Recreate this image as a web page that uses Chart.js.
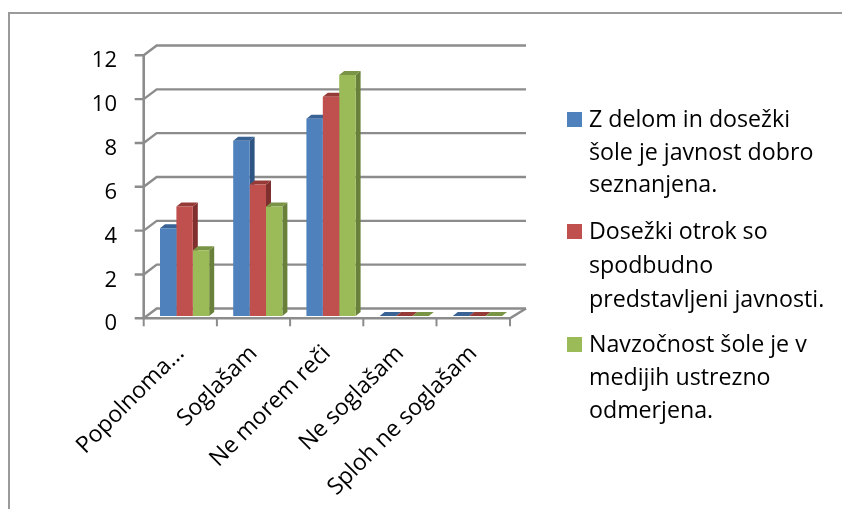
<!DOCTYPE html>
<html>
<head>
<meta charset="utf-8">
<script src="https://cdn.jsdelivr.net/npm/chart.js@4"></script>
<style>
  html, body { margin: 0; padding: 0; background: #fff; }
  #wrap { position: relative; width: 842px; height: 509px; }
</style>
</head>
<body>
<div id="wrap"><canvas id="grafico" width="842" height="509"></canvas></div>
<script>
const categorie = ['Popolnoma...', 'Soglašam', 'Ne morem reči', 'Ne soglašam', 'Sploh ne soglašam'];
const serieJavnost = [4, 8, 9, 0, 0];
const serieOtroci  = [5, 6, 10, 0, 0];
const serieMediji  = [3, 5, 11, 0, 0];
const nomiSerie = [
  'Z delom in dosežki šole je javnost dobro seznanjena.',
  'Dosežki otrok so spodbudno predstavljeni javnosti.',
  'Navzočnost šole je v medijih ustrezno odmerjena.'
];
const righeLegenda = [ // a capo come nell'originale
  ['Z delom in dosežki', 'šole je javnost dobro', 'seznanjena.'],
  ['Dosežki otrok so', 'spodbudno', 'predstavljeni javnosti.'],
  ['Navzočnost šole je v', 'medijih ustrezno', 'odmerjena.']
];
const yTicks = [0, 2, 4, 6, 8, 10, 12];

const coloriFronte = ['#4F81BD', '#C0504D', '#9BBB59'];
const coloriLato   = ['#2F5585', '#7F2F2D', '#68803A'];
const coloriTop    = ['#3A6395', '#963A38', '#7A9446'];

const GRIGIO = '#8C8C8C';
const FONT = '"Open Sans", sans-serif';
const DX = 5, DY = 4;       // profondita delle barre
const WALL_DX = 13, WALL_DY = 7.5; // parete di fondo rispetto alla base delle barre

// cornice, griglia e assi finti 3D + facce delle barre: tutto sotto i frontali
const pareti = {
  id: 'pareti',
  beforeDatasetsDraw(chart) {
    const { ctx, scales: { x, y } } = chart;
    const ax = x.left - 4.3, ay = 2.3; // asse davanti
    const bx = ax + WALL_DX, by = -WALL_DY; // griglia dietro
    const fine = x.right - 4;

    ctx.save();
    ctx.strokeStyle = '#9A9A9A';
    ctx.lineWidth = 2;
    ctx.beginPath(); // cornice esterna
    ctx.moveTo(9, 509); ctx.lineTo(9, 13); ctx.lineTo(842, 13);
    ctx.stroke();

    ctx.strokeStyle = GRIGIO;
    ctx.lineWidth = 2.4;
    yTicks.forEach(v => {
      const py = y.getPixelForValue(v);
      ctx.beginPath(); // griglia + raccordo + tacca
      ctx.moveTo(ax - 9, py + ay);
      ctx.lineTo(ax, py + ay);
      ctx.lineTo(bx, py + by);
      ctx.lineTo(fine + WALL_DX + 3, py + by);
      ctx.stroke();
    });
    const y0 = y.getPixelForValue(0), y12 = y.getPixelForValue(12);
    ctx.lineWidth = 2.6;
    ctx.beginPath(); // asse y
    ctx.moveTo(ax, y12 + ay); ctx.lineTo(ax, y0 + ay);
    ctx.stroke();
    ctx.beginPath(); // asse x + raccordo a destra
    ctx.moveTo(ax, y0 + ay);
    ctx.lineTo(fine, y0 + ay);
    ctx.lineTo(fine + WALL_DX + 3, y0 + by);
    ctx.stroke();
    ctx.lineWidth = 2;
    categorie.forEach((c, i) => { // tacche asse x
      const tx = ax + (x.getPixelForValue(i) - x.getPixelForValue(0));
      ctx.beginPath(); ctx.moveTo(tx, y0 + ay); ctx.lineTo(tx, y0 + ay + 8); ctx.stroke();
    });
    ctx.beginPath(); ctx.moveTo(fine, y0 + ay); ctx.lineTo(fine, y0 + ay + 8); ctx.stroke();

    // facce laterali e superiori delle barre
    chart.data.datasets.forEach((ds, d) => {
      chart.getDatasetMeta(d).data.forEach(bar => {
        const r = bar.x + bar.width / 2, l = bar.x - bar.width / 2;
        ctx.fillStyle = coloriLato[d];
        ctx.beginPath();
        ctx.moveTo(r, bar.y); ctx.lineTo(r + DX, bar.y - DY);
        ctx.lineTo(r + DX, bar.base - DY); ctx.lineTo(r, bar.base);
        ctx.closePath(); ctx.fill();
        ctx.fillStyle = coloriTop[d];
        ctx.beginPath();
        ctx.moveTo(l, bar.y); ctx.lineTo(l + DX, bar.y - DY);
        ctx.lineTo(r + DX, bar.y - DY); ctx.lineTo(r, bar.y);
        ctx.closePath(); ctx.fill();
      });
    });
    ctx.restore();
  }
};

// legenda a mano perche quella di Chart.js non va a capo
const legenda = {
  id: 'legenda',
  afterDraw(chart) {
    const { ctx } = chart;
    const baseline = [[127, 160, 192], [239, 273, 306.5], [352, 385, 418]];
    ctx.save();
    ctx.font = '23.2px ' + FONT;
    ctx.textBaseline = 'alphabetic';
    ctx.textAlign = 'left';
    righeLegenda.forEach((righe, d) => {
      ctx.fillStyle = chart.data.datasets[d].backgroundColor;
      ctx.fillRect(567, baseline[d][0] - 15, 15, 15);
      ctx.fillStyle = '#000';
      righe.forEach((t, i) => ctx.fillText(t, 589, baseline[d][i]));
    });
    ctx.restore();
  }
};

new Chart(document.getElementById('grafico'), {
  type: 'bar',
  data: {
    labels: categorie,
    datasets: [
      { label: nomiSerie[0], data: serieJavnost, backgroundColor: coloriFronte[0] },
      { label: nomiSerie[1], data: serieOtroci,  backgroundColor: coloriFronte[1] },
      { label: nomiSerie[2], data: serieMediji,  backgroundColor: coloriFronte[2] }
    ]
  },
  options: {
    responsive: false,
    animation: false,
    categoryPercentage: 0.672,
    barPercentage: 1,
    layout: { padding: { top: 53, right: 328, left: 0, bottom: 0 } },
    plugins: { legend: { display: false }, tooltip: { enabled: false } },
    scales: {
      x: {
        grid: { display: false }, border: { display: false },
        ticks: { color: '#000', font: { family: FONT, size: 23 }, minRotation: 45, maxRotation: 45, autoSkip: false, padding: 16, labelOffset: -4 },
        afterFit(s) { s.height = 193; }
      },
      y: { min: 0, max: 12, display: false },
      // asse solo per le etichette: nell'originale stanno un po' sotto la base delle barre
      yEtichette: {
        position: 'left', min: 0.37, max: 12.37,
        grid: { display: false }, border: { display: false },
        ticks: { color: '#000', font: { family: FONT, size: 22 }, padding: 23, autoSkip: false },
        afterBuildTicks(s) { s.ticks = yTicks.map(v => ({ value: v })); },
        afterFit(s) { s.width = 148; }
      }
    }
  },
  plugins: [pareti, legenda]
});
</script>
</body>
</html>
